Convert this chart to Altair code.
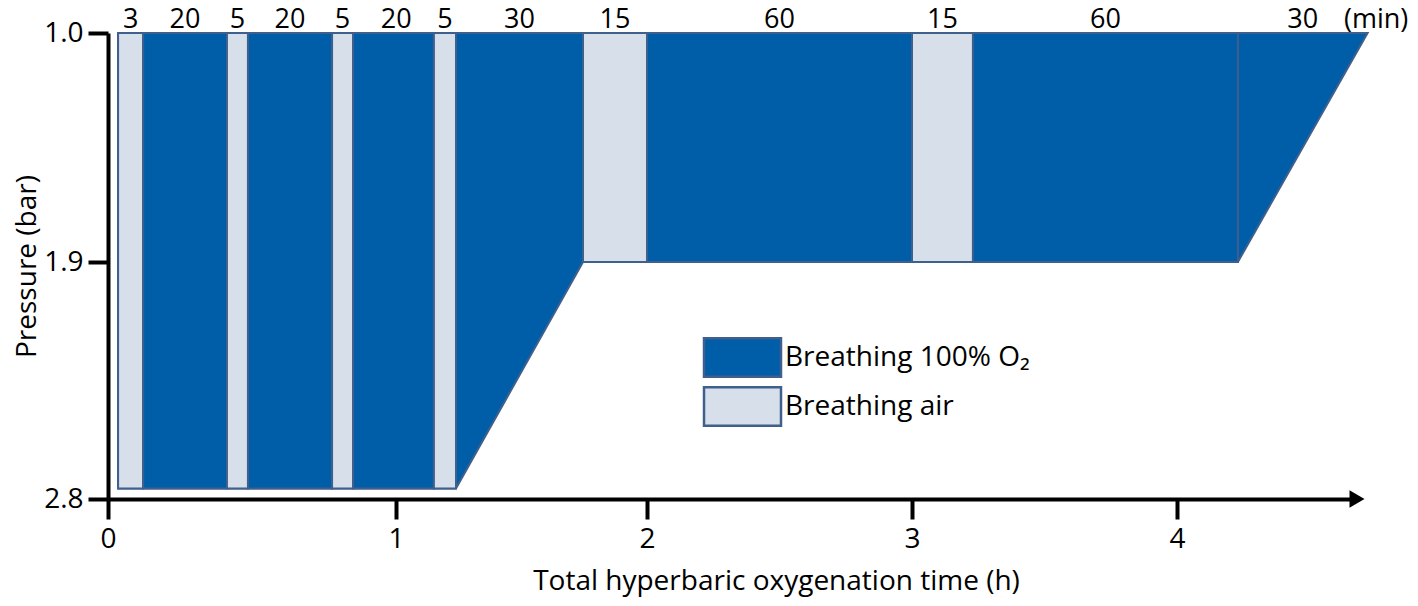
import altair as alt
import pandas as pd

# ---- data (time in hours, pressure in bar) ----
seg_start = [0.035, 0.122, 0.413, 0.486, 0.778, 0.851, 1.151, 1.239, 1.745, 2.0, 3.0, 3.23, 4.23]
seg_end = [0.122, 0.413, 0.486, 0.778, 0.851, 1.151, 1.239, 1.745, 2.0, 3.0, 3.23, 4.23, 4.72]
seg_minutes = ["3", "20", "5", "20", "5", "20", "5", "30", "15", "60", "15", "60", "30"]
O2 = "Breathing 100% O\u2082"
AIR = "Breathing air"
seg_gas = [AIR, O2, AIR, O2, AIR, O2, AIR, O2, AIR, O2, AIR, O2, O2]
seg_kind = ["hold"] * 7 + ["ascent"] + ["hold"] * 4 + ["ascent"]
seg_bottom = [2.76] * 7 + [2.76] + [1.9] * 4 + [1.9]
seg_top = [1.0] * 13

# pressure profile (lower boundary of the chart's shape)
prof_time = [0.035, 1.239, 1.745, 4.23, 4.72]
prof_pressure = [2.76, 2.76, 1.9, 1.9, 1.0]

unit_label = "(min)"
unit_x = 4.752

x_ticks = [0, 1, 2, 3, 4]
y_ticks = [1.0, 1.9, 2.8]
x_axis_end = 4.68

DARK = "#005EA8"
LIGHT = "#D7DFEA"
EDGE = "#3F5F8D"
FONT = "Open Sans"
FS = 28

seg_df = pd.DataFrame({
    "start": seg_start, "end": seg_end, "gas": seg_gas, "kind": seg_kind,
    "bottom": seg_bottom, "top": seg_top, "minutes": seg_minutes,
})
seg_df["mid"] = (seg_df["start"] + seg_df["end"]) / 2
hold_df = seg_df[seg_df["kind"] == "hold"]

label_df = pd.DataFrame({
    "x": list(seg_df["mid"]) + [unit_x],
    "p": [1.0] * (len(seg_df) + 1),
    "label": seg_minutes + [unit_label],
})

prof_df = pd.DataFrame({"t": prof_time, "p": prof_pressure, "top": [1.0] * len(prof_time)})
arrow_df = pd.DataFrame({"t": [x_axis_end], "p": [2.8]})

xscale = alt.Scale(domain=[0, 1, 2, 3, 4, x_axis_end],
                   range=[0, 288, 539, 804, 1069, 1249], nice=False, zero=False)
yscale = alt.Scale(domain=[1.0, 1.9, 2.8], range=[0, 229, 466], nice=False, zero=False)

xaxis = alt.Axis(values=x_ticks, format="d", title="Total hyperbaric oxygenation time (h)",
                 grid=False, domainColor="black", domainWidth=4, tickColor="black",
                 tickWidth=4, tickSize=20, labelFontSize=FS, labelColor="black",
                 labelFlush=False, labelPadding=6, titleFontSize=FS,
                 titleFontWeight="normal", titleColor="black", titleX=668, titleY=90,
                 titleBaseline="alphabetic")
yaxis = alt.Axis(values=y_ticks, format=".1f", title="Pressure (bar)", grid=False,
                 domainColor="black", domainWidth=4, tickColor="black", tickWidth=4,
                 tickSize=20, labelFontSize=FS, labelColor="black", labelPadding=5,
                 labelFlush=False, titleFontSize=FS, titleFontWeight="normal",
                 titleColor="black", titlePadding=2)

area = alt.Chart(prof_df).mark_area(color=DARK, stroke=EDGE, strokeWidth=2).encode(
    x=alt.X("t:Q", scale=xscale, axis=xaxis),
    y=alt.Y("top:Q", scale=yscale, axis=yaxis),
    y2="p:Q",
)

rects = alt.Chart(hold_df).mark_rect(stroke=EDGE, strokeWidth=2).encode(
    x=alt.X("start:Q", scale=xscale, axis=xaxis),
    x2="end:Q",
    y=alt.Y("top:Q", scale=yscale, axis=yaxis),
    y2="bottom:Q",
    color=alt.Color("gas:N", title=None,
                    scale=alt.Scale(domain=[O2, AIR], range=[DARK, LIGHT]),
                    legend=alt.Legend(orient="none", legendX=614, legendY=304, padding=0,
                                      symbolType="M-2,-1H2V1H-2Z", symbolSize=1482,
                                      symbolStrokeColor=EDGE, symbolStrokeWidth=2.5,
                                      symbolOpacity=1, labelOffset=22, rowPadding=0,
                                      labelFontSize=FS, labelFont=FONT, labelColor="black",
                                      labelLimit=400)),
)

labels = alt.Chart(label_df).mark_text(fontSize=27, font=FONT, baseline="alphabetic",
                                       dy=-5, color="black").encode(
    x=alt.X("x:Q", scale=xscale, axis=xaxis),
    y=alt.Y("p:Q", scale=yscale, axis=yaxis),
    text="label:N",
)

arrow = alt.Chart(arrow_df).mark_point(shape="triangle-right", filled=True, color="black",
                                       size=300, opacity=1).encode(
    x=alt.X("t:Q", scale=xscale, axis=xaxis),
    y=alt.Y("p:Q", scale=yscale, axis=yaxis),
)

chart = alt.layer(area, rects, arrow, labels).properties(
    width=1249, height=466,
    padding={"left": 100, "top": 25, "right": 53, "bottom": 99},
    autosize=alt.AutoSizeParams(type="none"),
).configure(font=FONT).configure_view(strokeWidth=0)

chart.save("out.html", embed_options={"renderer": "svg", "actions": False})
